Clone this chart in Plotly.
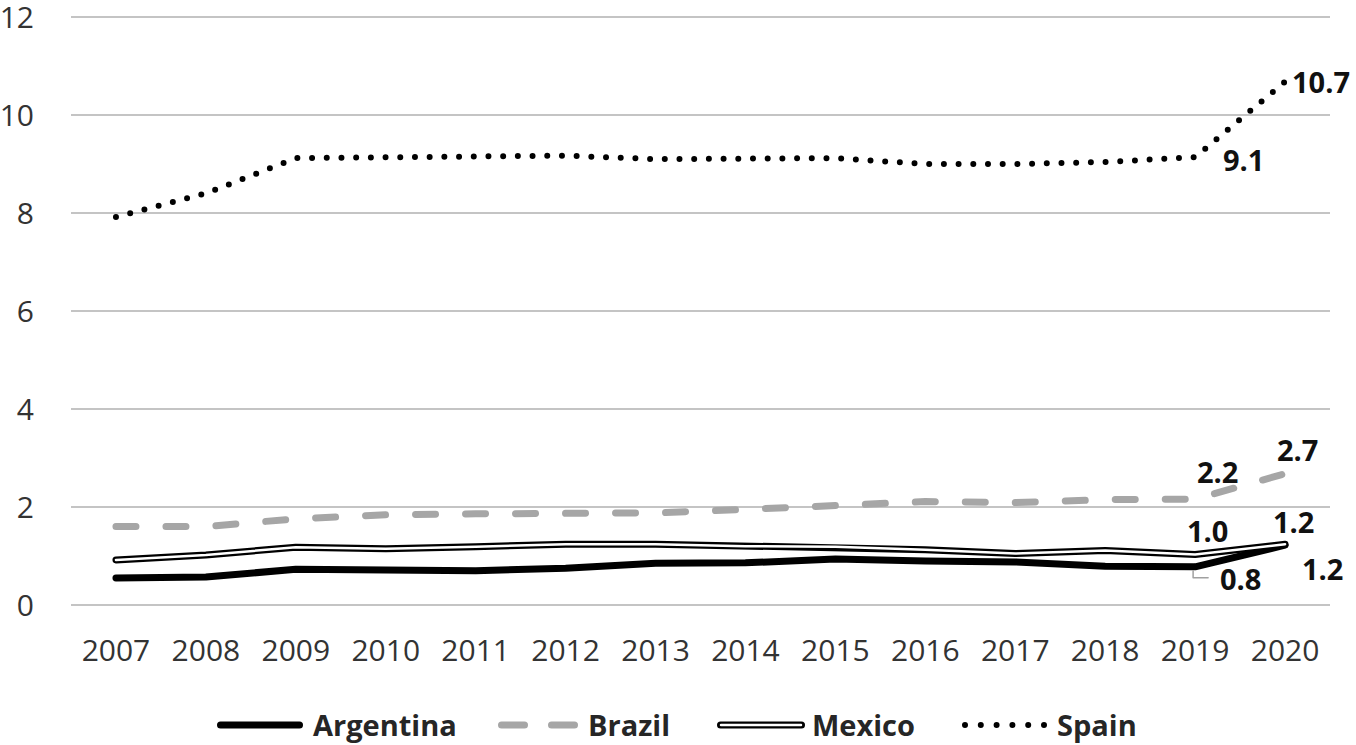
import plotly.graph_objects as go

years = ["2007", "2008", "2009", "2010", "2011", "2012", "2013",
         "2014", "2015", "2016", "2017", "2018", "2019", "2020"]
argentina = [0.55, 0.57, 0.73, 0.70, 0.70, 0.75, 0.85, 0.86, 0.94, 0.90, 0.88, 0.79, 0.78, 1.22]
brazil = [1.60, 1.60, 1.76, 1.84, 1.86, 1.88, 1.88, 1.95, 2.03, 2.11, 2.09, 2.15, 2.16, 2.68]
mexico = [0.92, 1.02, 1.18, 1.15, 1.19, 1.24, 1.24, 1.20, 1.19, 1.13, 1.05, 1.11, 1.03, 1.24]
spain = [7.92, 8.40, 9.12, 9.13, 9.17, 9.17, 9.10, 9.10, 9.12, 9.00, 9.00, 9.04, 9.14, 10.68]
y_ticks = [0, 2, 4, 6, 8, 10, 12]

W, H = 1356, 745
ML, MR, MT, MB = 71, 26, 15, 140
PW, PH = W - ML - MR, H - MT - MB
Y_TOP = 12 * PH / 588.0

def px(x):
    return (x - ML) / PW

def py(y):
    return (H - MB - y) / PH

BLACK = "#000000"
GRAY = "#a6a6a6"
TXT = "#262626"
FONT = "Open Sans"

fig = go.Figure()
fig.add_trace(go.Scatter(x=years, y=argentina, mode="lines", name="Argentina",
                         line=dict(color=BLACK, width=7), showlegend=False))
fig.add_trace(go.Scatter(x=years, y=brazil, mode="lines", name="Brazil",
                         line=dict(color=GRAY, width=7, dash="20px,30px"), showlegend=False))
fig.add_trace(go.Scatter(x=years, y=mexico, mode="lines", name="Mexico",
                         line=dict(color=BLACK, width=7), showlegend=False))
fig.add_trace(go.Scatter(x=years, y=mexico, mode="lines", name="Mexico inner",
                         line=dict(color="#ffffff", width=2.5), showlegend=False))
fig.add_trace(go.Scatter(x=years, y=spain, mode="lines", name="Spain",
                         line=dict(color=BLACK, width=6, dash="0px,14.7px"), showlegend=False))

lab_font = dict(family=FONT, size=29, color="#111111")
def lab(series, idx, dx, dy):
    v = series[idx]
    fig.add_annotation(xref="x", yref="y", x=idx, y=v, text=f"<b>{v:.1f}</b>", showarrow=False,
                       xshift=dx, yshift=dy, font=lab_font, xanchor="center", yanchor="middle")

lab(spain, 12, 48, -2)
lab(spain, 13, 36, 0)
lab(brazil, 12, 22, 28)
lab(brazil, 13, 12, 24)
lab(mexico, 12, 12, 24)
lab(mexico, 13, 8, 23)
lab(argentina, 12, 45, -12)
lab(argentina, 13, 37, -23)

# leader line for Argentina 2019 label
fig.add_shape(type="path", xref="x", yref="y", xsizemode="pixel", ysizemode="pixel",
              xanchor=12, yanchor=argentina[12],
              path="M -2,-4 L -2,-11 L 13,-11", line=dict(color="#a0a0a0", width=1.5))

# custom legend
LY = 725
def lline(x0, x1, color, width, dash="solid"):
    fig.add_shape(type="line", xref="paper", yref="paper", x0=px(x0), x1=px(x1),
                  y0=py(LY), y1=py(LY), line=dict(color=color, width=width, dash=dash))

def ltext(x, t):
    fig.add_annotation(xref="paper", yref="paper", x=px(x), y=py(LY), text=f"<b>{t}</b>",
                       showarrow=False, xanchor="left", yanchor="middle",
                       font=dict(family=FONT, size=29, color=TXT))

lline(220.5, 299.5, BLACK, 7)
ltext(311, "Argentina")
lline(501.5, 524.5, GRAY, 7)
lline(551.5, 574.5, GRAY, 7)
ltext(586, "Brazil")
lline(720.5, 801.5, BLACK, 7)
lline(721, 801, "#ffffff", 2.5)
ltext(810, "Mexico")
lline(965, 1044, BLACK, 6, "0px,15.8px")
ltext(1055, "Spain")

fig.update_layout(
    width=W, height=H,
    margin=dict(l=ML, r=MR, t=MT, b=MB),
    paper_bgcolor="white", plot_bgcolor="white",
    showlegend=False,
    font=dict(family=FONT, color=TXT),
)
fig.update_xaxes(type="category", range=[-0.5, 13.5], showgrid=False, showline=False,
                 ticks="", tickfont=dict(family=FONT, size=30, color="#333333"),
                 ticklabelstandoff=25, automargin=False)
fig.update_yaxes(range=[0, Y_TOP], tickvals=y_ticks, showgrid=True, gridcolor="#c4c4c4",
                 gridwidth=1.5, zeroline=True, zerolinecolor="#c4c4c4", zerolinewidth=1.5,
                 showline=False, ticks="", tickfont=dict(family=FONT, size=30, color="#333333"),
                 ticklabelstandoff=36, automargin=False, ticklabeloverflow="allow")

post = """
var gd = document.getElementById('{plot_id}');
function fixcaps(){
  document.querySelectorAll('.scatterlayer .js-line, .shapelayer path').forEach(function(p){
    p.style.strokeLinecap = 'round'; p.style.strokeLinejoin = 'round';
  });
}
fixcaps();
gd.on('plotly_afterplot', fixcaps);
"""
fig.write_html("out.html", post_script=post)
